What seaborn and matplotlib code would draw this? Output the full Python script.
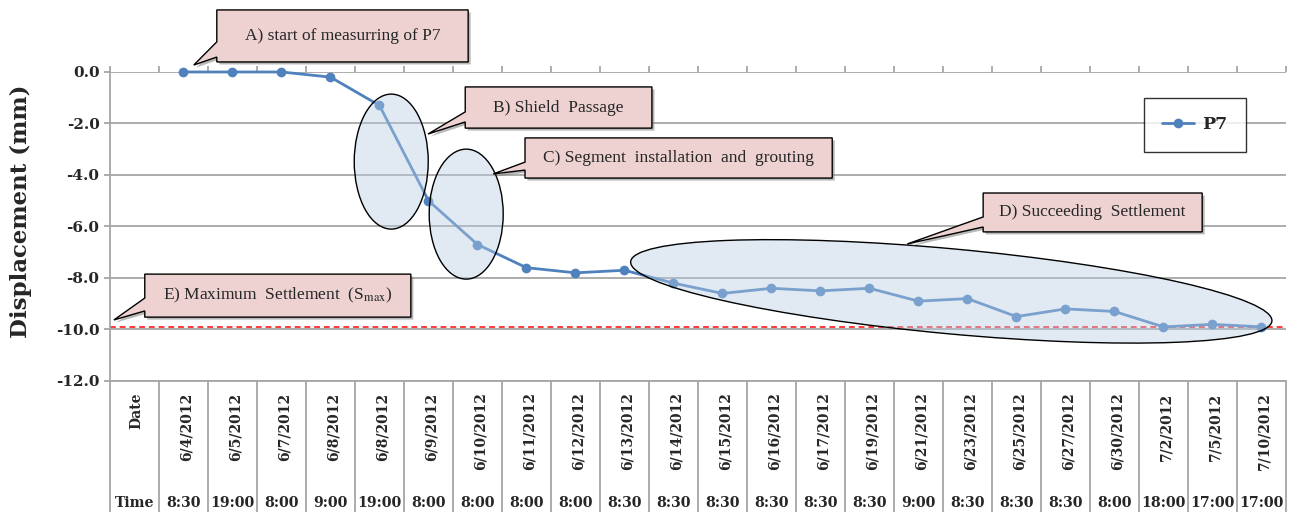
import numpy as np
import pandas as pd
import matplotlib
matplotlib.use("Agg")
import matplotlib.pyplot as plt
import matplotlib.transforms as mtransforms
from matplotlib.colors import to_rgba
from matplotlib.patches import Ellipse, Polygon
import seaborn as sns

# ─────────────────────────────────────────
# 1. DATA
# ─────────────────────────────────────────

dates = ["6/4/2012", "6/5/2012", "6/7/2012", "6/8/2012", "6/8/2012", "6/9/2012",
         "6/10/2012", "6/11/2012", "6/12/2012", "6/13/2012", "6/14/2012", "6/15/2012",
         "6/16/2012", "6/17/2012", "6/19/2012", "6/21/2012", "6/23/2012", "6/25/2012",
         "6/27/2012", "6/30/2012", "7/2/2012", "7/5/2012", "7/10/2012"]
times = ["8:30", "19:00", "8:00", "9:00", "19:00", "8:00", "8:00", "8:00", "8:00",
         "8:30", "8:30", "8:30", "8:30", "8:30", "8:30", "9:00", "8:30", "8:30",
         "8:30", "8:00", "18:00", "17:00", "17:00"]
displacement = [0.0, 0.0, 0.0, -0.2, -1.3, -5.0, -6.7, -7.6, -7.8, -7.7, -8.2, -8.6,
                -8.4, -8.5, -8.4, -8.9, -8.8, -9.5, -9.2, -9.3, -9.9, -9.8, -9.9]
y_ticks = [0.0, -2.0, -4.0, -6.0, -8.0, -10.0, -12.0]

# first table column holds the row labels, data starts at column 1
df = pd.DataFrame({"pos": np.arange(1, len(dates) + 1), "disp": displacement})
s_max = df["disp"].min()

# callouts: text, box (x0, x1, y_top, y_bottom), tip (x, y), wedge base on left edge
callouts = [
    ("A) start of measurring of P7", (1.68, 6.81, 2.41, 0.39), (1.21, 0.27), (1.17, 0.58)),
    ("B) Shield  Passage", (6.75, 10.56, -0.58, -2.18), (5.99, -2.41), (-1.55, -1.94)),
    ("C) Segment  installation  and  grouting", (7.97, 14.24, -2.56, -4.12), (7.32, -3.96), (-3.50, -3.81)),
    ("D) Succeeding  Settlement", (17.32, 21.79, -4.70, -6.21), (15.77, -6.68), (-5.63, -6.02)),
    (r"E) Maximum  Settlement  (S$_{\mathrm{max}}$)", (0.21, 5.64, -7.85, -9.52), (-0.42, -9.63), (-8.78, -9.28)),
]
# ellipses: centre in data units, size in inches, angle in degrees
ellipses = [
    ((5.24, -3.48), 0.74, 1.35, 0),
    ((6.77, -5.52), 0.74, 1.30, 0),
    ((16.67, -8.52), 6.44, 0.85, -5.3),
]

# ─────────────────────────────────────────
# 2. STYLE
# ─────────────────────────────────────────

sns.set_theme(style="white")
plt.rcParams["font.family"] = ["DejaVu Serif"]
plt.rcParams["mathtext.fontset"] = "stix"

BLUE  = "#4F81BD"
GRID  = "#a6a6a6"
PINK  = "#eed2d2"

fig = plt.figure(figsize=(13, 5.12), dpi=100)
ax = fig.add_axes([0.0846, 0.2559, 0.9046, 0.6035])

# ─────────────────────────────────────────
# 3. LINE
# ─────────────────────────────────────────

sns.lineplot(data=df, x="pos", y="disp", ax=ax, color=BLUE, lw=2, marker="o",
             markersize=7, markeredgewidth=0, label="P7", zorder=3, clip_on=False)

ax.axhline(s_max, color="#ff3b3b", lw=1.4, ls=(0, (3, 2)), zorder=2)

ax.set_xlim(-0.5, len(dates) + 0.5)
ax.set_ylim(-12, 0)
ax.set_yticks(y_ticks)
ax.set_yticklabels([f"{v:.1f}" for v in y_ticks], fontsize=11, fontweight="bold")
ax.yaxis.grid(True, color=GRID, lw=1.3, zorder=0)
ax.set_axisbelow(True)
ax.set_ylabel("Displacement (mm)", fontsize=16.5, fontweight="bold")
ax.yaxis.set_label_coords(-0.066, 0.55)
ax.set_xlabel("")

for side in ["top", "right"]:
    ax.spines[side].set_visible(False)
for side in ["left", "bottom"]:
    ax.spines[side].set_color(GRID)
    ax.spines[side].set_linewidth(1.3)

bounds = np.arange(len(dates) + 2) - 0.5
ax.set_xticks(bounds)
ax.set_xticklabels([])
ax.tick_params(axis="x", top=True, bottom=False, direction="out", length=4,
               color=GRID, width=1.3)
ax.tick_params(axis="y", left=True, direction="out", length=4, color=GRID, width=1.3)

# ─────────────────────────────────────────
# 4. DATE / TIME TABLE UNDER THE AXIS
# ─────────────────────────────────────────

tr = mtransforms.blended_transform_factory(ax.transData, ax.transAxes)
ax.vlines(bounds, 0, -0.43, transform=tr, color=GRID, lw=1.3, clip_on=False)

ax.text(0.04, -0.037, "Date", transform=tr, rotation=90, ha="center", va="top",
        fontsize=10, fontweight="bold")
ax.text(0, -0.395, "Time", transform=tr, ha="center", va="center",
        fontsize=10.2, fontweight="bold")
for i, (d, t) in enumerate(zip(dates, times), start=1):
    ax.text(i + 0.06, -0.037, d, transform=tr, rotation=90, ha="center", va="top",
            fontsize=10, fontweight="bold")
    ax.text(i, -0.395, t, transform=tr, ha="center", va="center",
            fontsize=10.2, fontweight="bold")

# ─────────────────────────────────────────
# 5. ELLIPSES AND CALLOUTS
# ─────────────────────────────────────────

for (cx, cy), w, h, ang in ellipses:
    e = Ellipse((0, 0), w, h, angle=ang,
                transform=fig.dpi_scale_trans + mtransforms.ScaledTranslation(cx, cy, ax.transData),
                facecolor=to_rgba("#b8cce4", 0.42), edgecolor="black", lw=1, zorder=4)
    ax.add_artist(e)

shadow_tr = mtransforms.offset_copy(ax.transData, fig=fig, x=2.5, y=-2.5, units="dots")
for text, (x0, x1, yt, yb), (tx, ty), (wa, wb) in callouts:
    pts = [(x0, yt), (x1, yt), (x1, yb), (x0, yb), (x0, wb), (tx, ty), (x0, wa)]
    ax.add_patch(Polygon(pts, closed=True, transform=shadow_tr, facecolor="#7f7f7f",
                         edgecolor="none", alpha=0.55, zorder=5, clip_on=False))
    ax.add_patch(Polygon(pts, closed=True, facecolor=PINK, edgecolor="black", lw=1,
                         zorder=6, clip_on=False))
    ax.text((x0 + x1) / 2, (yt + yb) / 2, text, ha="center", va="center",
            family="Liberation Serif", fontsize=12.5, zorder=7)

# ─────────────────────────────────────────
# 6. LEGEND
# ─────────────────────────────────────────

leg = ax.legend(loc="center", bbox_to_anchor=(0.9226, 0.8285), frameon=True,
                fancybox=False, edgecolor="black", borderpad=1.05, handlelength=1.8,
                handletextpad=0.5, prop={"weight": "bold", "size": 12.5})
leg.get_frame().set_linewidth(1)
leg.set_zorder(8)

fig.savefig("out.png", dpi=100)
